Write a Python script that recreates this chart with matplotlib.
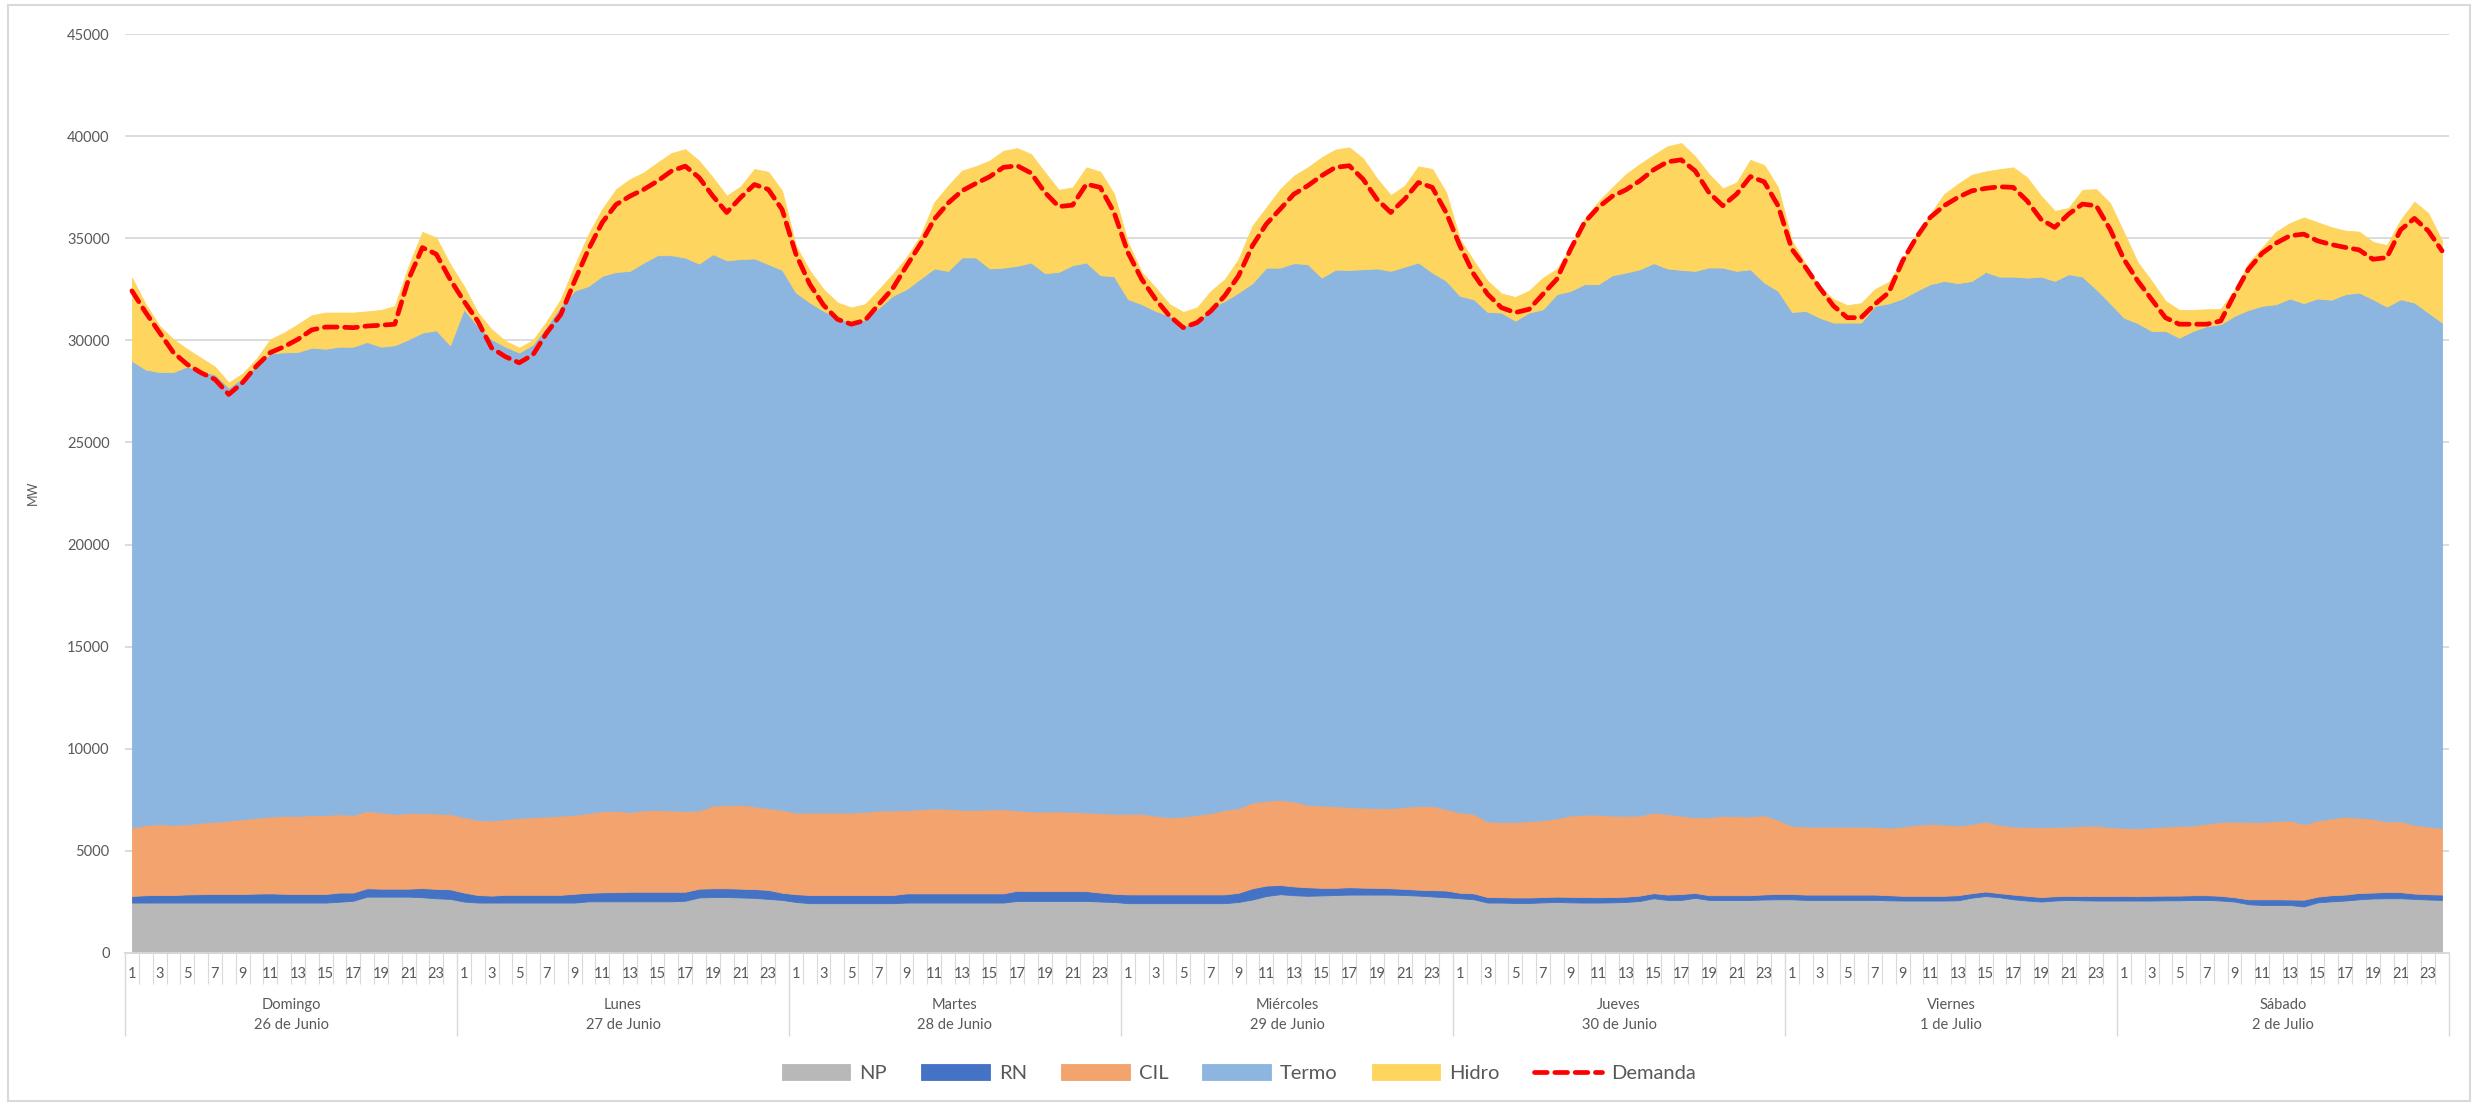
import numpy as np
import matplotlib.pyplot as plt
from matplotlib.patches import Rectangle

plt.rcParams['font.family'] = ['Lato', 'DejaVu Sans']

# --- data (MW per hour, 7 days x 24 h) ---
hours = list(range(1, 25))
day_names = ['Domingo', 'Lunes', 'Martes', 'Miércoles', 'Jueves', 'Viernes', 'Sábado']
day_dates = ['26 de Junio', '27 de Junio', '28 de Junio', '29 de Junio',
             '30 de Junio', '1 de Julio', '2 de Julio']
series_names = ['NP', 'RN', 'CIL', 'Termo', 'Hidro']

np_mw = [
    2470, 2470, 2470, 2470, 2470, 2470, 2470, 2470, 2470, 2470, 2470, 2470, 2470, 2470, 2470, 2510, 2560, 2760, 2760, 2760, 2760, 2730, 2680, 2650,
    2520, 2470, 2470, 2470, 2470, 2470, 2470, 2470, 2470, 2530, 2530, 2530, 2530, 2530, 2530, 2530, 2560, 2720, 2740, 2740, 2720, 2700, 2650, 2600,
    2500, 2440, 2440, 2440, 2440, 2440, 2440, 2440, 2470, 2470, 2470, 2470, 2470, 2470, 2470, 2470, 2550, 2550, 2550, 2550, 2550, 2550, 2520, 2500,
    2440, 2440, 2440, 2440, 2440, 2440, 2440, 2440, 2500, 2620, 2790, 2880, 2830, 2800, 2820, 2840, 2860, 2860, 2860, 2860, 2840, 2810, 2770, 2730,
    2680, 2630, 2470, 2470, 2450, 2450, 2480, 2500, 2480, 2470, 2470, 2480, 2500, 2550, 2680, 2600, 2600, 2700, 2600, 2600, 2600, 2600, 2620, 2630,
    2630, 2600, 2600, 2600, 2600, 2600, 2600, 2580, 2570, 2570, 2570, 2570, 2580, 2710, 2790, 2730, 2630, 2570, 2520, 2570, 2600, 2580, 2570, 2570,
    2570, 2570, 2570, 2580, 2580, 2600, 2600, 2570, 2520, 2390, 2350, 2350, 2350, 2280, 2480, 2530, 2570, 2630, 2670, 2680, 2680, 2650, 2620, 2600,
]

rn_mw = [
    320, 360, 370, 370, 400, 410, 420, 420, 420, 440, 450, 430, 420, 420, 420, 450, 400, 410, 390, 390, 390, 450, 460, 470,
    440, 370, 340, 380, 380, 380, 380, 380, 430, 420, 440, 450, 470, 470, 470, 470, 440, 430, 430, 430, 430, 430, 440, 350,
    380, 400, 400, 400, 400, 400, 400, 400, 450, 450, 450, 450, 450, 450, 450, 450, 500, 480, 480, 480, 480, 480, 440, 400,
    430, 430, 430, 430, 430, 430, 430, 430, 450, 550, 510, 450, 430, 420, 370, 350, 360, 340, 330, 310, 300, 290, 310, 330,
    270, 290, 270, 260, 270, 270, 260, 260, 270, 270, 260, 260, 260, 260, 250, 260, 290, 240, 230, 230, 230, 230, 250, 260,
    260, 260, 260, 260, 260, 260, 260, 250, 230, 230, 230, 230, 250, 220, 220, 200, 230, 230, 220, 210, 200, 210, 220, 220,
    230, 210, 230, 230, 230, 230, 230, 230, 210, 240, 280, 280, 270, 330, 280, 300, 290, 310, 290, 310, 300, 260, 260, 260,
]

cil_mw = [
    3350, 3430, 3470, 3430, 3430, 3500, 3530, 3600, 3660, 3710, 3760, 3820, 3820, 3870, 3860, 3840, 3800, 3790, 3730, 3660, 3700, 3670, 3690, 3690,
    3690, 3680, 3680, 3700, 3770, 3800, 3830, 3870, 3870, 3900, 3980, 3980, 3900, 3980, 4010, 3980, 3960, 3830, 4050, 4070, 4110, 4050, 4000, 4060,
    4000, 4040, 4040, 4040, 4040, 4070, 4140, 4140, 4080, 4120, 4160, 4140, 4090, 4090, 4110, 4120, 3930, 3900, 3900, 3900, 3880, 3850, 3890, 3920,
    3950, 3950, 3850, 3780, 3810, 3900, 3980, 4140, 4140, 4200, 4150, 4170, 4160, 4040, 4030, 4000, 3920, 3920, 3910, 3920, 4010, 4100, 4120, 3990,
    3930, 3890, 3700, 3680, 3690, 3740, 3760, 3840, 3980, 4040, 4040, 3990, 3960, 3920, 3950, 3940, 3830, 3710, 3810, 3890, 3870, 3850, 3880, 3630,
    3340, 3330, 3330, 3330, 3330, 3330, 3320, 3300, 3390, 3480, 3520, 3490, 3410, 3390, 3430, 3350, 3330, 3380, 3420, 3400, 3390, 3440, 3450, 3370,
    3330, 3320, 3360, 3380, 3420, 3410, 3510, 3620, 3710, 3790, 3790, 3840, 3870, 3700, 3730, 3760, 3820, 3690, 3610, 3450, 3470, 3370, 3310, 3250,
]

termo_mw = [
    22850, 22310, 22140, 22180, 22420, 22110, 21910, 21190, 21620, 22110, 22680, 22690, 22720, 22880, 22840, 22890, 22930, 22960, 22810, 22950, 23200, 23530, 23660, 22950,
    24870, 24180, 23560, 23140, 22780, 23150, 24020, 24960, 25660, 25810, 26210, 26390, 26500, 26830, 27160, 27190, 27090, 26780, 27000, 26680, 26720, 26830, 26640, 26440,
    25460, 24970, 24560, 24230, 23990, 24120, 24620, 25200, 25510, 25980, 26440, 26340, 27050, 27050, 26490, 26520, 26670, 26880, 26360, 26420, 26770, 26930, 26340, 26310,
    25200, 24950, 24720, 24550, 24020, 24100, 24750, 24920, 25250, 25430, 26110, 26060, 26360, 26470, 25850, 26270, 26310, 26360, 26420, 26310, 26460, 26610, 26120, 25870,
    25300, 25200, 24950, 24950, 24550, 24900, 25020, 25660, 25690, 25970, 25980, 26450, 26600, 26750, 26900, 26720, 26730, 26750, 26930, 26840, 26700, 26800, 26080, 25900,
    25160, 25250, 24920, 24680, 24680, 24680, 25510, 25680, 25860, 26140, 26430, 26620, 26560, 26590, 26910, 26840, 26930, 26890, 26960, 26730, 27050, 26890, 26260, 25660,
    24980, 24740, 24300, 24270, 23900, 24220, 24360, 24370, 24760, 25070, 25270, 25300, 25560, 25510, 25560, 25400, 25580, 25710, 25440, 25210, 25560, 25570, 25170, 24760,
]

hidro_mw = [
    4080, 3190, 2250, 1600, 850, 650, 380, 250, 210, 360, 690, 970, 1360, 1590, 1770, 1670, 1670, 1500, 1800, 1920, 3590, 4930, 4540, 3970,
    1140, 660, 490, 280, 240, 220, 250, 330, 1220, 2540, 3270, 4050, 4490, 4410, 4540, 5000, 5310, 5030, 3750, 3160, 3560, 4380, 4520, 3870,
    2290, 1560, 1060, 740, 740, 740, 900, 1060, 1550, 2100, 3240, 4170, 4250, 4460, 5280, 5720, 5760, 5310, 4940, 4020, 3810, 4660, 5070, 4040,
    2780, 1560, 1140, 570, 690, 740, 820, 1060, 1640, 2810, 2940, 3840, 4280, 4740, 5890, 5880, 6000, 5430, 4410, 3710, 3960, 4710, 5070, 4330,
    2780, 1880, 1520, 940, 1160, 1070, 1550, 1230, 2130, 3190, 4040, 4300, 4820, 5150, 5300, 5980, 6210, 5610, 4580, 3880, 4330, 5360, 5750, 5070,
    3480, 2290, 1510, 1150, 850, 950, 820, 1050, 1850, 2780, 3430, 4250, 4860, 5200, 4920, 5260, 5350, 4910, 3960, 3430, 3240, 4250, 4900, 4900,
    4170, 2980, 2450, 1470, 1360, 1030, 820, 740, 1280, 2290, 2860, 3550, 3690, 4200, 3730, 3550, 3110, 2980, 2810, 3010, 3890, 4940, 4870, 4010,
]

demanda_mw = [
    32420, 31360, 30380, 29400, 28820, 28410, 28090, 27350, 27930, 28740, 29400, 29690, 30050, 30510, 30650, 30650, 30620, 30700, 30740, 30790, 32990, 34540, 34220, 32990,
    31920, 30940, 29630, 29200, 28900, 29300, 30380, 31260, 32900, 34450, 35770, 36650, 37060, 37390, 37800, 38290, 38530, 37970, 37060, 36260, 36990, 37630, 37390, 36410,
    34220, 32750, 31720, 31030, 30790, 30980, 31770, 32540, 33650, 34710, 35930, 36720, 37320, 37680, 38010, 38470, 38550, 38190, 37240, 36550, 36620, 37650, 37490, 36260,
    34300, 32990, 32010, 31200, 30620, 30870, 31440, 32180, 33160, 34630, 35690, 36420, 37160, 37570, 38060, 38470, 38550, 37890, 36910, 36260, 36910, 37730, 37490, 36260,
    34630, 33240, 32260, 31600, 31360, 31520, 32260, 32990, 34460, 35770, 36510, 37050, 37370, 37810, 38350, 38740, 38840, 38300, 37240, 36590, 37160, 38020, 37760, 36590,
    34460, 33560, 32580, 31690, 31110, 31110, 31770, 32340, 33890, 35040, 36020, 36590, 37000, 37320, 37440, 37520, 37490, 36830, 35930, 35530, 36180, 36670, 36590, 35440,
    33970, 32910, 32010, 31110, 30790, 30790, 30790, 30950, 32260, 33480, 34270, 34760, 35120, 35200, 34870, 34690, 34550, 34430, 33970, 34050, 35410, 35970, 35360, 34380,
]

colors = ['#B8B8B8', '#4472C4', '#F2A36E', '#8CB6DF', '#FED55E']
grid_c = '#D9D9D9'
text_c = '#595959'

W, H = 2478, 1105
fig = plt.figure(figsize=(W / 100, H / 100), dpi=100)
ax = fig.add_axes([125 / W, 1 - 953 / H, (2449 - 125) / W, (953 - 34) / H])

x = np.arange(len(demanda_mw))
ax.stackplot(x, np_mw, rn_mw, cil_mw, termo_mw, hidro_mw, colors=colors,
             labels=series_names, edgecolor='face', linewidth=0.6)
ax.plot(x, demanda_mw, color='#FF0000', lw=3.4, ls=(0, (2.7, 1.6)),
        dash_capstyle='round', solid_joinstyle='round', label='Demanda')

ax.set_xlim(-0.5, len(x) - 0.5)
ax.set_ylim(0, 45000)
ax.set_yticks(np.arange(0, 45001, 5000))
ax.yaxis.grid(True, color=grid_c, lw=1.3)
ax.set_axisbelow(True)
ax.tick_params(axis='y', length=0, pad=11, labelsize=10.5, labelcolor=text_c)

for side in ['top', 'right', 'left']:
    ax.spines[side].set_visible(False)
ax.spines['bottom'].set_color(grid_c)
ax.spines['bottom'].set_linewidth(1.3)

# category axis: small separators per hour, long ones per day
ax.set_xticks(np.arange(-0.5, len(x), 24))
ax.set_xticks(np.arange(-0.5, len(x), 1), minor=True)
ax.tick_params(axis='x', which='major', length=60, width=1, color=grid_c, labelbottom=False)
ax.tick_params(axis='x', which='minor', length=22, width=0.8, color=grid_c)

tr = ax.get_xaxis_transform()
for i in range(0, len(x), 2):
    ax.text(i, -21 / 919, str(hours[i % 24]), transform=tr, ha='center', va='center',
            fontsize=10.5, color=text_c)
for d in range(len(day_names)):
    ax.text(d * 24 + 11.5, -52 / 919, day_names[d], transform=tr, ha='center', va='center',
            fontsize=10.5, color=text_c)
    ax.text(d * 24 + 11.5, -72 / 919, day_dates[d], transform=tr, ha='center', va='center',
            fontsize=10.5, color=text_c)

fig.text(33 / W, 1 - 493 / H, 'MW', rotation=90, ha='center', va='center',
         fontsize=9, color=text_c)

fig.legend(loc='center', bbox_to_anchor=(0.5, 1 - 1073 / H), ncol=6, frameon=False,
           fontsize=14.5, handlelength=3.4, handleheight=0.8, columnspacing=1.7,
           handletextpad=0.45, labelcolor=text_c)

fig.patches.append(Rectangle((8 / W, 4 / H), (2470 - 8) / W, (1100 - 4) / H,
                             transform=fig.transFigure, fill=False, ec=grid_c, lw=1.5))

fig.savefig('out.png', dpi=100)
